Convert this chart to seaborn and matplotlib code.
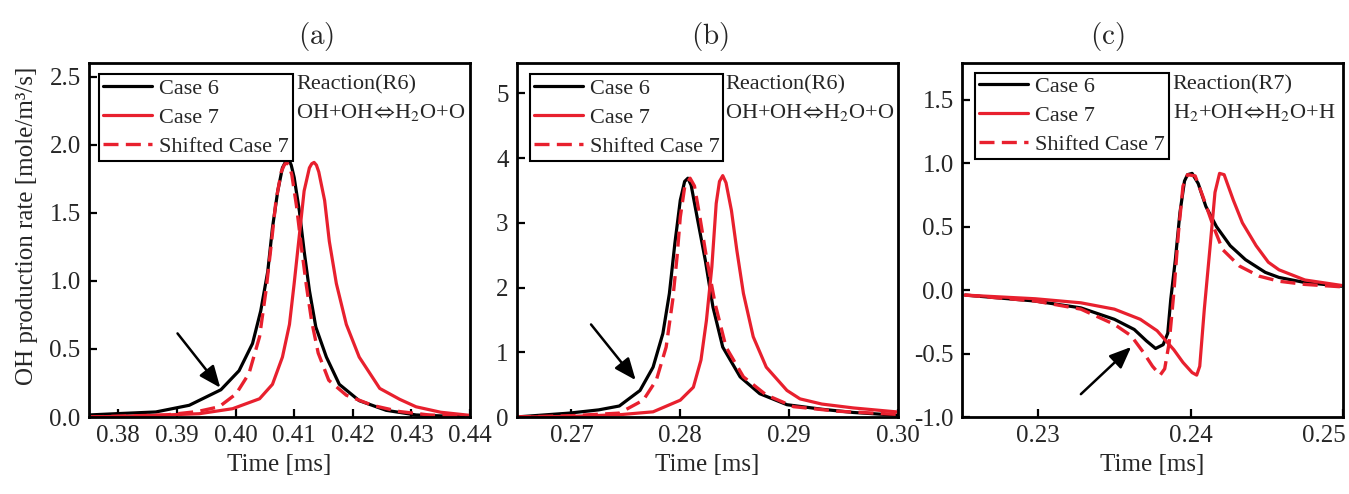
import numpy as np
import pandas as pd
import matplotlib
matplotlib.use("Agg")
import matplotlib.pyplot as plt
import matplotlib.transforms as mtrans
import seaborn as sns

# ---------------- data ----------------
# Panel (a)  Reaction (R6)
a_c6_t = [0.375, 0.380, 0.3864, 0.3921, 0.3975, 0.4006, 0.4029, 0.4043, 0.4055, 0.4063,
          0.4072, 0.4080, 0.4086, 0.4091, 0.4095, 0.4100, 0.4109, 0.4117, 0.4126, 0.4137,
          0.4155, 0.4177, 0.4211, 0.4257, 0.4308, 0.440]
a_c6_v = [0.015, 0.025, 0.037, 0.086, 0.20, 0.34, 0.54, 0.78, 1.07, 1.39,
          1.66, 1.83, 1.88, 1.89, 1.85, 1.76, 1.51, 1.22, 0.93, 0.66,
          0.44, 0.24, 0.12, 0.049, 0.015, 0.0]
a_c7_t = [0.375, 0.3850, 0.3938, 0.3995, 0.4041, 0.4063, 0.4080, 0.4092, 0.4100, 0.4109,
          0.4117, 0.4126, 0.4130, 0.4134, 0.4138, 0.4142, 0.4152, 0.4160, 0.4172, 0.4189,
          0.4211, 0.4246, 0.4280, 0.4308, 0.4350, 0.440]
a_c7_v = [0.0, 0.01, 0.024, 0.061, 0.134, 0.24, 0.44, 0.68, 0.98, 1.34,
          1.66, 1.83, 1.86, 1.87, 1.85, 1.80, 1.59, 1.29, 0.98, 0.68,
          0.44, 0.21, 0.13, 0.075, 0.035, 0.012]
a_s7_t = [0.375, 0.3881, 0.3935, 0.3972, 0.4001, 0.4023, 0.4041, 0.4052, 0.4061, 0.4069,
          0.4078, 0.4083, 0.4087, 0.4091, 0.4096, 0.4104, 0.4112, 0.4121, 0.4130, 0.4141,
          0.4159, 0.4189, 0.4234, 0.4280, 0.4330, 0.440]
a_s7_v = [0.0, 0.015, 0.04, 0.075, 0.17, 0.32, 0.59, 0.93, 1.27, 1.59,
          1.80, 1.85, 1.87, 1.85, 1.78, 1.55, 1.26, 0.96, 0.70, 0.47,
          0.27, 0.16, 0.085, 0.04, 0.015, 0.004]

# Panel (b)  Reaction (R6)
b_c6_t = [0.2649, 0.2698, 0.2725, 0.2744, 0.2763, 0.2775, 0.2784, 0.2790, 0.2795, 0.2800,
          0.2804, 0.2807, 0.2810, 0.2816, 0.2823, 0.2830, 0.2839, 0.2855, 0.2873, 0.2898,
          0.2930, 0.2959, 0.300]
b_c6_v = [0.0, 0.06, 0.11, 0.17, 0.41, 0.77, 1.29, 1.91, 2.68, 3.35,
          3.64, 3.69, 3.58, 3.04, 2.42, 1.70, 1.08, 0.62, 0.36, 0.19,
          0.12, 0.07, 0.026]
b_c7_t = [0.2649, 0.2700, 0.2744, 0.2775, 0.2800, 0.2812, 0.2819, 0.2824, 0.2829, 0.2833,
          0.2836, 0.2839, 0.2842, 0.2847, 0.2852, 0.2858, 0.2867, 0.2879, 0.2898, 0.2910,
          0.2930, 0.2959, 0.300]
b_c7_v = [0.0, 0.01, 0.035, 0.08, 0.26, 0.46, 0.88, 1.49, 2.32, 3.30,
          3.64, 3.73, 3.62, 3.19, 2.57, 1.91, 1.24, 0.77, 0.41, 0.28,
          0.20, 0.14, 0.077]
b_s7_t = [0.2649, 0.2700, 0.2744, 0.2766, 0.2778, 0.2787, 0.2793, 0.2797, 0.2800, 0.2804,
          0.2809, 0.2813, 0.2818, 0.2824, 0.2832, 0.2842, 0.2858, 0.2879, 0.2904, 0.2944,
          0.300]
b_s7_v = [0.0, 0.02, 0.06, 0.26, 0.57, 1.08, 1.80, 2.47, 3.09, 3.55,
          3.69, 3.57, 3.09, 2.47, 1.75, 1.08, 0.62, 0.34, 0.16, 0.09,
          0.04]

# Panel (c)  Reaction (R7)
c_c6_t = [0.2252, 0.2298, 0.2328, 0.2350, 0.2363, 0.2371, 0.2377, 0.2382, 0.2385, 0.2387,
          0.2390, 0.2393, 0.2396, 0.2398, 0.2401, 0.2405, 0.2410, 0.2417, 0.2426, 0.2436,
          0.2449, 0.2458, 0.2475, 0.2499]
c_c6_v = [-0.039, -0.086, -0.14, -0.23, -0.31, -0.40, -0.46, -0.43, -0.34, -0.07,
          0.24, 0.61, 0.86, 0.91, 0.92, 0.84, 0.66, 0.50, 0.35, 0.24,
          0.14, 0.10, 0.06, 0.031]
c_c7_t = [0.2252, 0.2298, 0.2328, 0.2350, 0.2367, 0.2378, 0.2389, 0.2395, 0.2401, 0.2404,
          0.2406, 0.2409, 0.2413, 0.2416, 0.2419, 0.2422, 0.2428, 0.2434, 0.2443, 0.2451,
          0.2458, 0.2475, 0.2499]
c_c7_v = [-0.039, -0.068, -0.10, -0.15, -0.23, -0.32, -0.47, -0.57, -0.65, -0.67,
          -0.60, -0.15, 0.37, 0.77, 0.92, 0.91, 0.71, 0.53, 0.35, 0.22,
          0.16, 0.08, 0.037]
c_s7_t = [0.2252, 0.2298, 0.2328, 0.2350, 0.2361, 0.2369, 0.2375, 0.2380, 0.2383, 0.2386,
          0.2389, 0.2392, 0.2395, 0.2398, 0.2403, 0.2408, 0.2415, 0.2421, 0.2432, 0.2445,
          0.2458, 0.2475, 0.2499]
c_s7_v = [-0.039, -0.086, -0.15, -0.27, -0.36, -0.49, -0.60, -0.67, -0.62, -0.41,
          -0.02, 0.45, 0.82, 0.91, 0.90, 0.74, 0.50, 0.32, 0.19, 0.11,
          0.07, 0.045, 0.026]

series_labels = ["Case 6", "Case 7", "Shifted Case 7"]
panel_titles = ["(a)", "(b)", "(c)"]
reaction_names = ["Reaction(R6)", "Reaction(R6)", "Reaction(R7)"]
reaction_eqs = [r"OH+OH$\!\Leftrightarrow\!$H$_2$O+O", r"OH+OH$\!\Leftrightarrow\!$H$_2$O+O",
                r"H$_2$+OH$\!\Leftrightarrow\!$H$_2$O+H"]
x_label = "Time [ms]"
y_label = "OH production rate [mole/m³/s]"

a_xticks = [0.38, 0.39, 0.40, 0.41, 0.42, 0.43, 0.44]
b_xticks = [0.27, 0.28, 0.29, 0.30]
c_xticks = [0.23, 0.24, 0.25]
a_yticks = [0.0, 0.5, 1.0, 1.5, 2.0, 2.5]
b_yticks = [0, 1, 2, 3, 4, 5]
c_yticks = [-1.0, -0.5, 0.0, 0.5, 1.0, 1.5]

# arrow (tail -> head) in data coordinates
a_arrow = [(0.3901, 0.614), (0.3974, 0.215)]
b_arrow = [(0.2718, 1.43), (0.2759, 0.57)]
c_arrow = [(0.2328, -0.82), (0.2361, -0.448)]

# ---------------- style ----------------
sns.set_theme(style="ticks")
plt.rcParams["font.family"] = ["Liberation Serif", "DejaVu Serif"]
plt.rcParams["mathtext.fontset"] = "stix"
plt.rcParams["axes.unicode_minus"] = False
plt.rcParams["xtick.direction"] = "in"
plt.rcParams["ytick.direction"] = "in"

BLACK = "#000000"
RED = "#E8202E"
DASH = (4.5, 2.2)

fig = plt.figure(figsize=(13.49, 4.94), dpi=100)
W, H = 1349, 494
lefts = [89, 517, 962]
ax_w, ax_top, ax_bot = 381, 63, 417
title_x = [0.596, 0.507, 0.381]

panels = [
    dict(c6=(a_c6_t, a_c6_v), c7=(a_c7_t, a_c7_v), s7=(a_s7_t, a_s7_v),
         xlim=(0.375, 0.44), ylim=(0, 2.6), xt=a_xticks, yt=a_yticks,
         xfmt="{:.2f}", yfmt="{:.1f}", arrow=a_arrow, leg=(0.027, 0.969), txt=0.543),
    dict(c6=(b_c6_t, b_c6_v), c7=(b_c7_t, b_c7_v), s7=(b_s7_t, b_s7_v),
         xlim=(0.265, 0.30), ylim=(0, 5.47), xt=b_xticks, yt=b_yticks,
         xfmt="{:.2f}", yfmt="{:.0f}", arrow=b_arrow, leg=(0.034, 0.969), txt=0.546),
    dict(c6=(c_c6_t, c_c6_v), c7=(c_c7_t, c_c7_v), s7=(c_s7_t, c_s7_v),
         xlim=(0.225, 0.25), ylim=(-1.0, 1.79), xt=c_xticks, yt=c_yticks,
         xfmt="{:.2f}", yfmt="{:.1f}", arrow=c_arrow, leg=(0.035, 0.973), txt=0.553),
]

for i, p in enumerate(panels):
    ax = fig.add_axes([lefts[i] / W, 1 - ax_bot / H, ax_w / W, (ax_bot - ax_top) / H])
    df6 = pd.DataFrame({"t": p["c6"][0], "v": p["c6"][1]})
    df7 = pd.DataFrame({"t": p["c7"][0], "v": p["c7"][1]})
    dfs = pd.DataFrame({"t": p["s7"][0], "v": p["s7"][1]})
    sns.lineplot(data=df6, x="t", y="v", ax=ax, color=BLACK, lw=2.3,
                 label=series_labels[0], estimator=None)
    sns.lineplot(data=df7, x="t", y="v", ax=ax, color=RED, lw=2.3,
                 label=series_labels[1], estimator=None)
    sns.lineplot(data=dfs, x="t", y="v", ax=ax, color=RED, lw=2.4,
                 label=series_labels[2], estimator=None)
    ax.lines[-1].set_dashes(DASH)
    for ln in ax.lines:
        ln.set_solid_joinstyle("round")
        ln.set_dash_joinstyle("round")

    ax.set_xlim(*p["xlim"])
    ax.set_ylim(*p["ylim"])
    ax.set_xticks(p["xt"])
    ax.set_xticklabels([p["xfmt"].format(v) for v in p["xt"]])
    ax.set_yticks(p["yt"])
    ax.set_yticklabels([p["yfmt"].format(v) for v in p["yt"]])
    ax.tick_params(axis="both", which="major", labelsize=18, length=6, width=1.6,
                   color="black", pad=6, top=False, right=False)
    for s in ax.spines.values():
        s.set_linewidth(2.0)
        s.set_color("black")
    ax.set_xlabel(x_label, fontsize=18, labelpad=5)
    if i == 0:
        ax.set_ylabel(y_label, fontsize=18)
        ax.yaxis.set_label_coords(-0.134, 0.54)
    else:
        ax.set_ylabel("")
    ax.set_title(r"$\mathrm{" + panel_titles[i] + "}$", fontsize=21, pad=14,
                 math_fontfamily="cm", x=title_x[i])

    # keep the last x tick label of panel (c) inside the figure, as in the reference
    if i == 2:
        lab = ax.get_xticklabels()[-1]
        lab.set_horizontalalignment("right")
        lab.set_transform(lab.get_transform() +
                          mtrans.ScaledTranslation(3 / 100, 0, fig.dpi_scale_trans))

    handles, labels = ax.get_legend_handles_labels()
    handles[2].set_dashes(DASH)
    leg = ax.legend(handles, labels, loc="upper left", bbox_to_anchor=p["leg"],
                    borderaxespad=0, fontsize=16, frameon=True, fancybox=False,
                    framealpha=1, edgecolor="black", handlelength=2.2,
                    handletextpad=0.3, labelspacing=0.38, borderpad=0.18)
    leg.get_frame().set_linewidth(1.5)

    ax.text(p["txt"], 0.938, reaction_names[i], transform=ax.transAxes,
            fontsize=16, ha="left", va="center")
    ax.text(p["txt"], 0.859, reaction_eqs[i], transform=ax.transAxes,
            fontsize=16, ha="left", va="center")

    (x0, y0), (x1, y1) = p["arrow"]
    ax.annotate("", xy=(x1, y1), xytext=(x0, y0),
                arrowprops=dict(arrowstyle="-|>,head_length=0.6,head_width=0.25",
                                color="black", lw=1.8,
                                mutation_scale=22, shrinkA=0, shrinkB=0))

fig.savefig("out.png", dpi=100)
